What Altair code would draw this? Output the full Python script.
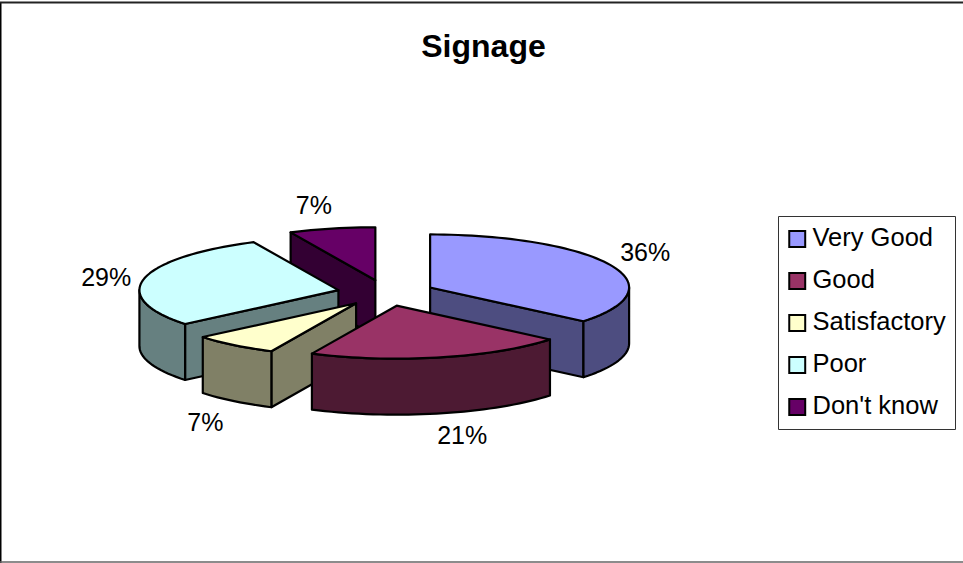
import math
import altair as alt

# Survey results for the "Signage" question, in clockwise order from 12 o'clock
CATEGORIES = ["Very Good", "Good", "Satisfactory", "Poor", "Don't know"]
SHARES = [36, 21, 7, 29, 7]
TOP_COLORS = ["#9999FF", "#993366", "#FFFFCC", "#CCFFFF", "#660066"]
SIDE_COLORS = ["#4D4D80", "#4D1A33", "#808066", "#668080", "#330033"]
PAINT_ORDER = [4, 3, 0, 2, 1]  # back-most slice first
LABEL_NUDGE_X = [-3, 13, -3, 3, -9]
LABEL_NUDGE_Y = [-2, -1, 3, 5, 1]

# Geometry of the tilted, exploded pie
CENTER_X, CENTER_Y = 386.0, 293.0
RADIUS_X, RADIUS_Y = 199.0, 53.0
DEPTH = 56.0
EXPLODE = 0.245
FONT = "Liberation Sans"


def rim(a, ox, oy, radial=1.0):
    return [ox + radial * RADIUS_X * math.sin(a), oy - radial * RADIUS_Y * math.cos(a)]


def arc(a0, a1, ox, oy):
    n = max(2, int(abs(a1 - a0) / math.radians(2)))
    return [rim(a0 + (a1 - a0) * i / n, ox, oy) for i in range(n + 1)]


def drop(points):
    return [[x, y + DEPTH] for x, y in points]


def feature(ring, part):
    return {
        "type": "Feature",
        "properties": {"part": part},
        "geometry": {"type": "Polygon", "coordinates": [ring + [ring[0]]]},
    }


total = sum(SHARES)
bounds = []
running = 0
for share in SHARES:
    bounds.append((running / total * 2 * math.pi, (running + share) / total * 2 * math.pi))
    running += share

features = []
labels = []
for i in PAINT_ORDER:
    a0, a1 = bounds[i]
    mid = (a0 + a1) / 2
    ox, oy = rim(mid, CENTER_X, CENTER_Y, EXPLODE)
    side = CATEGORIES[i] + " side"
    apex = [ox, oy]
    # cut faces that turn towards the viewer
    if math.sin(a0) < 0:
        edge = [apex, rim(a0, ox, oy)]
        features.append(feature(edge + drop(edge)[::-1], side))
    if math.sin(a1) > 0:
        edge = [apex, rim(a1, ox, oy)]
        features.append(feature(edge + drop(edge)[::-1], side))
    # outer wall, only on the front half of the rim
    v0, v1 = max(a0, math.pi / 2), min(a1, 3 * math.pi / 2)
    if v0 < v1:
        wall = arc(v0, v1, ox, oy)
        features.append(feature(wall + drop(wall)[::-1], side))
    # top face
    features.append(feature([apex] + arc(a0, a1, ox, oy), CATEGORIES[i]))
    # percentage label just outside the rim
    lx, ly = rim(mid, ox, oy)
    if math.cos(mid) < 0:
        ly += DEPTH
    labels.append({
        "text": f"{SHARES[i]}%",
        "x": lx + 42 * math.sin(mid) + LABEL_NUDGE_X[i],
        "y": ly - 24 * math.cos(mid) + LABEL_NUDGE_Y[i],
    })

keys = CATEGORIES + [c + " side" for c in CATEGORIES]
colors = TOP_COLORS + SIDE_COLORS

pie = (
    alt.Chart(alt.Data(values=features))
    .mark_geoshape(stroke="black", strokeWidth=2.2, strokeJoin="round", opacity=1, fillOpacity=1)
    .encode(
        fill=alt.Fill(
            "properties.part:N",
            scale=alt.Scale(domain=keys, range=colors),
            legend=alt.Legend(
                values=CATEGORIES,
                title=None,
                orient="none",
                legendX=778,
                legendY=216,
                padding=9,
                rowPadding=15,
                strokeColor="#333333",
                fillColor="white",
                symbolType="M-1.5,-0.95H0.78V1.33H-1.5Z",
                symbolSize=196,
                symbolStrokeColor="black",
                symbolStrokeWidth=2,
                labelFont=FONT,
                labelFontSize=25.5,
                labelColor="black",
                labelOffset=0,
                labelLimit=300,
            ),
        )
    )
    .project(type="identity", scale=1, translate=[0, 0])
)

percent_text = (
    alt.Chart(alt.Data(values=labels))
    .mark_text(font=FONT, fontSize=25, color="black", align="center", baseline="middle")
    .encode(
        x=alt.X("x:Q", scale=None, axis=None),
        y=alt.Y("y:Q", scale=None, axis=None),
        text="text:N",
    )
)

frame_left = alt.Chart(alt.Data(values=[{"k": 0}])).mark_rule(color="black", strokeWidth=2).encode(
    x=alt.value(0.5), y=alt.value(2), y2=alt.value(563)
)
frame_top = alt.Chart(alt.Data(values=[{"k": 0}])).mark_rule(color="#222222", strokeWidth=2).encode(
    x=alt.value(0), x2=alt.value(963), y=alt.value(2.5)
)
frame_bottom = alt.Chart(alt.Data(values=[{"k": 0}])).mark_rule(color="#666666", strokeWidth=1.5).encode(
    x=alt.value(0), x2=alt.value(963), y=alt.value(562)
)

chart = (
    alt.layer(frame_left, frame_top, frame_bottom, pie, percent_text)
    .properties(
        width=963,
        height=563,
        padding=0,
        autosize=alt.AutoSizeParams(type="none"),
        background="white",
        title=alt.TitleParams(
            "Signage", font=FONT, fontSize=32, fontWeight="bold", color="black",
            anchor="middle", dx=2, dy=68,
        ),
    )
    .configure_view(stroke=None)
)

chart.save("out.html", embed_options={"renderer": "svg", "actions": False})
